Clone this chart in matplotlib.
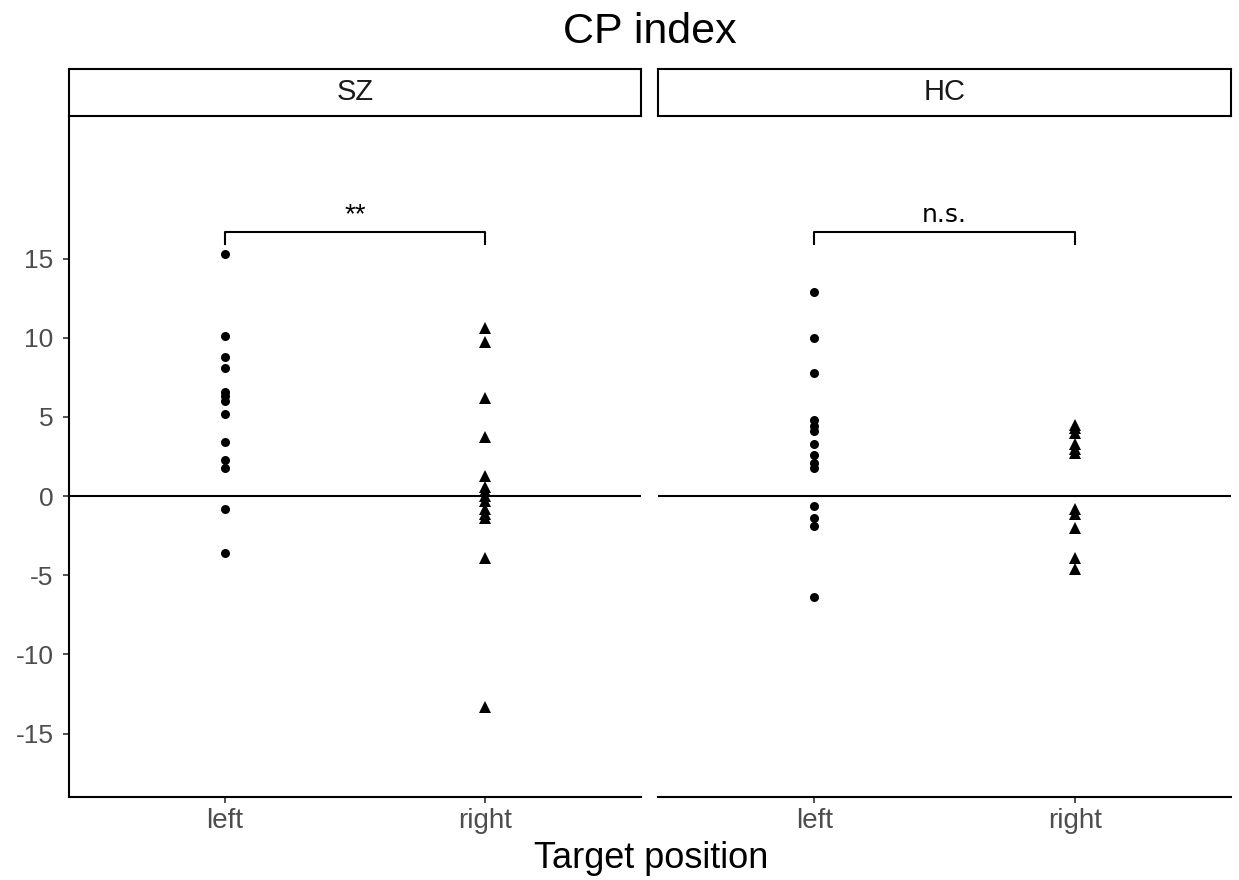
import matplotlib
matplotlib.use("Agg")
import matplotlib.pyplot as plt

plt.rcParams['font.family'] = ['Liberation Sans', 'DejaVu Sans']

groups = ["SZ", "HC"]
positions = ["left", "right"]
sz_left = [15.3, 10.1, 8.8, 8.1, 6.6, 6.3, 6.0, 5.2, 3.4, 2.3, 1.8, -0.8, -3.6]
sz_right = [10.6, 9.7, 6.2, 3.7, 1.3, 0.6, 0.3, 0.0, -0.3, -0.8, -1.1, -1.4, -3.9, -13.3]
hc_left = [12.9, 10.0, 7.8, 4.8, 4.4, 4.1, 3.3, 2.6, 2.1, 1.8, -0.6, -1.4, -1.9, -6.4]
hc_right = [4.5, 4.3, 4.0, 3.3, 3.0, 2.7, -0.8, -1.1, -2.0, -3.9, -4.6]
data = {"SZ": (sz_left, sz_right), "HC": (hc_left, hc_right)}
labels = {"SZ": "**", "HC": "n.s."}
label_fonts = {"SZ": ("Liberation Sans", 20), "HC": ("DejaVu Sans", 18)}
yticks = [-15, -10, -5, 0, 5, 10, 15]
bracket_y = 16.7
bracket_tip = 15.9
label_y = 17.3

W, H = 1239, 880
fig = plt.figure(figsize=(W / 100, H / 100), dpi=100)

panels = {"SZ": (69, 641), "HC": (658, 1231)}
top, bottom = 116, 797
strip_top = 69

for g in groups:
    x0, x1 = panels[g]
    ax = fig.add_axes([x0 / W, (H - bottom) / H, (x1 - x0) / W, (bottom - top) / H])
    left, right = data[g]
    ax.plot([1] * len(left), left, 'o', color='black', markersize=6.5, markeredgewidth=0)
    ax.plot([2] * len(right), right, '^', color='black', markersize=8, markeredgewidth=0)
    ax.axhline(0, color='black', lw=1.5)
    ax.plot([1, 1, 2, 2], [bracket_tip, bracket_y, bracket_y, bracket_tip], color='black', lw=1.5)
    fam, fs = label_fonts[g]
    ax.text(1.5, label_y, labels[g], ha='center', va='baseline', fontsize=fs, family=fam)
    ax.set_xlim(0.4, 2.6)
    ax.set_ylim(-19, 24)
    ax.set_xticks([1, 2])
    ax.set_xticklabels(positions, fontsize=20, color='#4d4d4d')
    ax.set_yticks(yticks)
    ax.set_yticklabels([str(v) for v in yticks], fontsize=19, color='#4d4d4d')
    for s in ['top', 'right']:
        ax.spines[s].set_visible(False)
    ax.spines['bottom'].set_linewidth(1.5)
    ax.spines['left'].set_linewidth(1.5)
    ax.tick_params(axis='both', length=4, width=1.2, color='#333333')
    ax.tick_params(axis='y', pad=7)
    ax.tick_params(axis='x', pad=4)
    if g == "HC":
        ax.spines['left'].set_visible(False)
        ax.tick_params(axis='y', left=False, labelleft=False)
    # strip
    sax = fig.add_axes([x0 / W, (H - top) / H, (x1 - x0) / W, (top - strip_top) / H])
    sax.set_xticks([])
    sax.set_yticks([])
    for s in sax.spines.values():
        s.set_linewidth(1.5)
    sax.text(0.5, 0.5, g, ha='center', va='center', fontsize=21, color='#1a1a1a',
             transform=sax.transAxes)

fig.text(650 / W, 1 - 43 / H, "CP index", ha='center', va='baseline', fontsize=31)
fig.text(651 / W, 1 - 868 / H, "Target position", ha='center', va='baseline', fontsize=26)

fig.savefig("out.png", dpi=100)
